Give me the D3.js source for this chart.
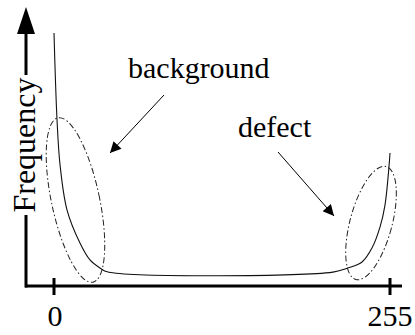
<!DOCTYPE html>
<html>
<head>
<meta charset="utf-8">
<script src="https://cdn.jsdelivr.net/npm/d3@7"></script>
<style>
  html, body { margin: 0; padding: 0; background: #fff; }
  svg { display: block; }
</style>
</head>
<body>
<svg id="chart" width="415" height="335"></svg>
<script>
// Grey-level histogram: intensity (0..255) against relative frequency
const intensity = [0, 2.3, 4.6, 9.9, 19.7, 27.3, 34.9, 41, 211.7, 223, 233.8, 241.3, 247.4, 251.2, 254.2, 255];
const frequency = [100, 65.6, 47.8, 30, 17, 10.3, 7.1, 5.5, 5.5, 7.1, 9.5, 15, 23.3, 32, 47, 52.6];
const tickValues = [0, 255];
const tickLabels = ["0", "255"];

// Annotated regions: label and centre of the enclosing ellipse (data units)
const regionNames = ["background", "defect"];
const regionCentreX = [16.3, 240.6];
const regionCentreY = [34, 24.9];

const FONT = "'Liberation Serif', 'Times New Roman', 'DejaVu Serif', serif";

const svg = d3.select("#chart");
const x = d3.scaleLinear().domain([0, 255]).range([54, 390]);
const y = d3.scaleLinear().domain([0, 100]).range([286, 33]);

// arrowhead marker
const defs = svg.append("defs");
defs.append("marker")
  .attr("id", "head").attr("viewBox", "0 0 10 10")
  .attr("refX", 10).attr("refY", 5)
  .attr("markerWidth", 14).attr("markerHeight", 11)
  .attr("markerUnits", "userSpaceOnUse")
  .attr("orient", "auto")
  .append("path").attr("d", "M0,0 L10,5 L0,10 Z").attr("fill", "#000");

// x axis line
svg.append("line")
  .attr("x1", 25).attr("x2", 402).attr("y1", y(0)).attr("y2", y(0))
  .attr("stroke", "#000").attr("stroke-width", 3);

// ticks and labels
const ticks = svg.append("g");
tickValues.forEach((v, i) => {
  ticks.append("line")
    .attr("x1", x(v)).attr("x2", x(v))
    .attr("y1", y(0) - 8).attr("y2", y(0) + 9)
    .attr("stroke", "#000").attr("stroke-width", 3);
  ticks.append("text")
    .attr("x", x(v) + (i === 1 ? 0 : 1)).attr("y", 326)
    .attr("text-anchor", "middle")
    .attr("font-family", FONT)
    .attr("font-size", 30)
    .attr("fill", "#000")
    .text(tickLabels[i]);
});

// y axis with arrow, interrupted by its title
svg.append("line")
  .attr("x1", 26).attr("x2", 26).attr("y1", y(0) + 1.5).attr("y2", 30)
  .attr("stroke", "#000").attr("stroke-width", 3);
svg.append("path")
  .attr("d", "M26,7 L35,34 L17,34 Z").attr("fill", "#000");
const title = svg.append("g")
  .attr("transform", "translate(35,145) rotate(-90)")
  .attr("opacity", 0.999);
title.append("rect")
  .attr("x", -70).attr("y", -24).attr("width", 140).attr("height", 32)
  .attr("fill", "#fff");
title.append("text")
  .attr("x", 0).attr("y", 0)
  .attr("text-anchor", "middle")
  .attr("font-family", FONT)
  .attr("font-size", 32)
  .attr("fill", "#000")
  .text("Frequency");

// histogram curve
const pts = intensity.map((d, i) => [d, frequency[i]]);
svg.append("path")
  .datum(pts)
  .attr("d", d3.line().x(d => x(d[0])).y(d => y(d[1])).curve(d3.curveCatmullRom.alpha(0.5)))
  .attr("fill", "none").attr("stroke", "#111").attr("stroke-width", 1.1);

// dash-dot ellipses around the two modes
const ellRx = [24, 21], ellRy = [84, 58.5], ellRot = [-12, 15];
regionNames.forEach((n, i) => {
  svg.append("ellipse")
    .attr("transform", `translate(${x(regionCentreX[i])},${y(regionCentreY[i])}) rotate(${ellRot[i]})`)
    .attr("rx", ellRx[i]).attr("ry", ellRy[i])
    .attr("fill", "none").attr("stroke", "#222").attr("stroke-width", 1)
    .attr("stroke-dasharray", "6,2.5,1.5,2.5");
});

// labels and arrows
const labelX = [128, 238], labelY = [78, 137];
const arrowFrom = [[164, 95], [278, 152]], arrowTo = [[110, 153], [334, 216]];
regionNames.forEach((n, i) => {
  svg.append("text")
    .attr("x", labelX[i]).attr("y", labelY[i])
    .attr("font-family", FONT)
    .attr("font-size", 30)
    .attr("fill", "#000")
    .text(n);
  svg.append("line")
    .attr("x1", arrowFrom[i][0]).attr("y1", arrowFrom[i][1])
    .attr("x2", arrowTo[i][0]).attr("y2", arrowTo[i][1])
    .attr("stroke", "#000").attr("stroke-width", 1)
    .attr("marker-end", "url(#head)");
});
</script>
</body>
</html>
